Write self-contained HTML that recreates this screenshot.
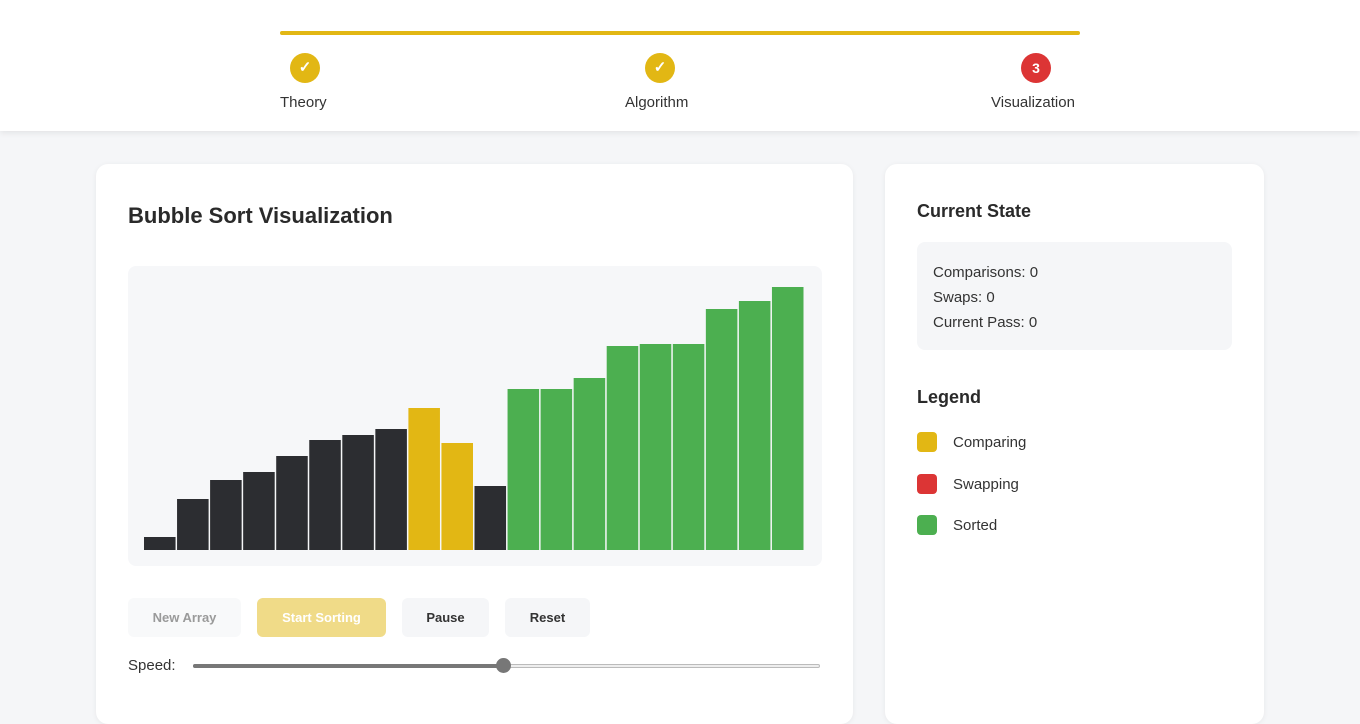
<!DOCTYPE html>
<html><head><meta charset="utf-8"><style>
*{box-sizing:border-box;margin:0;padding:0}
body{width:1360px;height:711px;overflow:hidden;background:#f5f6f8;font-family:"Liberation Sans",sans-serif;color:#222;position:relative}
.abs{position:absolute}
header{position:absolute;left:0;top:0;width:1360px;height:131px;background:#fff;box-shadow:0 2px 6px rgba(0,0,0,.08)}
.step{position:absolute;width:30px;height:30px;border-radius:50%;color:#fff;font-weight:bold;font-size:15px;text-align:center;line-height:30px;top:53px}
.lbl{position:absolute;top:94px;font-size:15px;color:#333}
.card{position:absolute;background:#fff;border-radius:12px;box-shadow:0 1px 6px rgba(0,0,0,.06)}
.btn{position:absolute;top:598px;height:39px;border-radius:6px;font-weight:bold;font-size:13px;text-align:center;line-height:39px}
.leg{position:absolute;left:917px;width:20px;height:20px;border-radius:4px}
.legt{position:absolute;left:953px;font-size:15px;color:#333}
</style></head><body>
<header>
<div class="abs" style="left:280px;top:31px;width:800px;height:4px;background:#e2b714;border-radius:2px"></div>
<div class="step" style="left:290px;background:#e2b714">✓</div>
<div class="step" style="left:645px;background:#e2b714">✓</div>
<div class="step" style="left:1021px;background:#dc3535;font-size:14px">3</div>
<div class="lbl" style="left:280px">Theory</div>
<div class="lbl" style="left:625px">Algorithm</div>
<div class="lbl" style="left:991px">Visualization</div>
</header>
<div class="card" style="left:96px;top:164px;width:757px;height:560px"></div>
<div class="abs" style="left:128px;top:203px;font-size:22px;font-weight:bold;color:#2a2a2a">Bubble Sort Visualization</div>
<svg class="abs" id="chart" style="left:128px;top:266px" width="694" height="300"></svg>
<div class="btn" style="left:128px;width:113px;background:#f8f9fa;color:#9a9a9a">New Array</div>
<div class="btn" style="left:257px;width:129px;background:#f0db88;color:#fff">Start Sorting</div>
<div class="btn" style="left:402px;width:87px;background:#f5f6f8;color:#333">Pause</div>
<div class="btn" style="left:505px;width:85px;background:#f5f6f8;color:#333">Reset</div>
<div class="abs" style="left:128px;top:657px;font-size:15px;color:#333">Speed:</div>
<div class="abs" style="left:193px;top:664px;width:627px;height:4px;border:1px solid #bbb;border-radius:2px;background:#eee"></div>
<div class="abs" style="left:193px;top:664px;width:310px;height:4px;background:#777;border-radius:2px"></div>
<div class="abs" style="left:496px;top:658px;width:15px;height:15px;border-radius:50%;background:#777"></div>

<div class="card" style="left:885px;top:164px;width:379px;height:560px"></div>
<div class="abs" style="left:917px;top:201px;font-size:18px;font-weight:bold;color:#2a2a2a">Current State</div>
<div class="abs" style="left:917px;top:242px;width:315px;height:108px;background:#f5f6f8;border-radius:8px;padding:19px 16px;font-size:15px;line-height:25.5px;color:#333">
<div style="margin-top:-1px">Comparisons: 0</div>
<div style="margin-top:-1px">Swaps: 0</div>
<div>Current Pass: 0</div>
</div>
<div class="abs" style="left:917px;top:387px;font-size:18px;font-weight:bold;color:#2a2a2a">Legend</div>
<div class="leg" style="top:432px;background:#e2b714"></div>
<div class="legt" style="top:434px">Comparing</div>
<div class="leg" style="top:474px;background:#dc3535"></div>
<div class="legt" style="top:476px">Swapping</div>
<div class="leg" style="top:515px;background:#4caf50"></div>
<div class="legt" style="top:517px">Sorted</div>
<script>
const values=[13,51,70,78,94,110,115,121,142,107,64,161,161,172,204,206,206,241,249,263];
const states=["d","d","d","d","d","d","d","d","c","c","d","s","s","s","s","s","s","s","s","s"];
const stateColors={d:"#2c2d31",c:"#e2b714",s:"#4caf50",w:"#dc3535"};
const svg=document.getElementById('chart');
const NS="http://www.w3.org/2000/svg";
svg.innerHTML='<rect width="694" height="300" rx="8" fill="#f6f7f9"/>';


const x0=16,x1=677,base=284,maxV=263,maxH=263;
const slot=(x1-x0)/values.length;
function xPos(i){return x0+i*slot;}
function yH(v){return v/maxV*maxH;}
values.forEach((v,i)=>{
 const r=document.createElementNS(NS,'rect');
 r.setAttribute('x',xPos(i));r.setAttribute('width',slot-1.5);
 r.setAttribute('y',base-yH(v));r.setAttribute('height',yH(v));
 r.setAttribute('fill',stateColors[states[i]]);
 
 
 svg.appendChild(r);
});
</script>
</body></html>
